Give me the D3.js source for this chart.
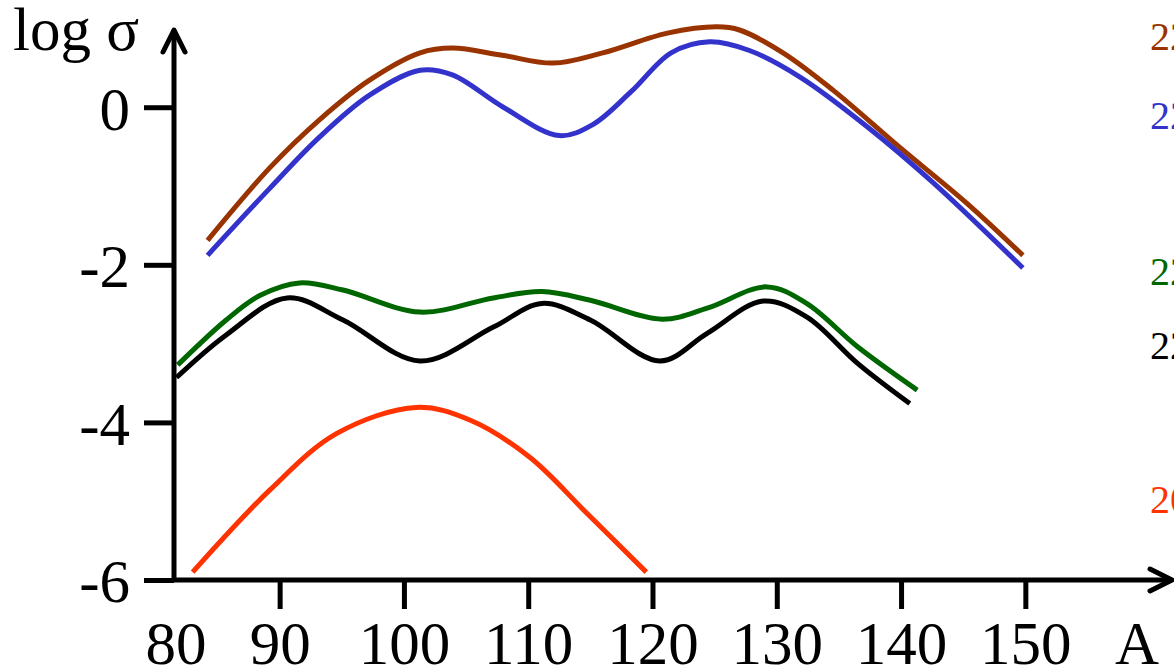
<!DOCTYPE html>
<html>
<head>
<meta charset="utf-8">
<script src="https://cdn.jsdelivr.net/npm/d3@7"></script>
<style>
  body { margin: 0; background: #fff; }
  svg { display: block; font-family: "Liberation Serif", "DejaVu Serif", serif; }
  .line { fill: none; stroke-width: 5; stroke-linecap: butt; stroke-linejoin: round; }
</style>
</head>
<body>
<div id="chart"></div>
<script>
// mass number A vs log sigma
var brownA = [84.2, 89.2, 93.2, 97.2, 101.3, 103.9, 107.9, 112, 116, 121.2, 125.2, 127, 130.5, 134.5, 139.9, 145.3, 149.8];
var brownS = [-1.69, -0.77, -0.16, 0.34, 0.69, 0.75, 0.66, 0.56, 0.69, 0.94, 1.02, 0.98, 0.69, 0.22, -0.51, -1.22, -1.88];

var blueA = [84.2, 89.2, 93.2, 97.2, 101.3, 103.9, 108, 112.5, 115.2, 118.3, 121.5, 124.6, 127.8, 131.9, 137.3, 142.6, 149.8];
var blueS = [-1.88, -1.03, -0.38, 0.15, 0.47, 0.41, 0.0, -0.36, -0.22, 0.2, 0.69, 0.83, 0.72, 0.38, -0.25, -0.96, -2.04];

var greenA = [81.8, 85.7, 88.4, 91.6, 95.1, 101.3, 107.2, 111.1, 115, 120.8, 124.4, 129.2, 132.4, 136.5, 141.3];
var greenS = [-3.27, -2.70, -2.39, -2.23, -2.32, -2.60, -2.42, -2.34, -2.45, -2.69, -2.55, -2.28, -2.49, -3.04, -3.59];

var blackA = [81.7, 85.7, 90.6, 95.1, 101.3, 107.2, 111.1, 115, 120.6, 124.4, 128.9, 132.4, 136.5, 140.7];
var blackS = [-3.43, -2.89, -2.42, -2.70, -3.22, -2.79, -2.49, -2.70, -3.22, -2.87, -2.46, -2.66, -3.25, -3.76];

var redA = [83.0, 89.2, 94.6, 101.0, 105.3, 110.1, 114.7, 119.5];
var redS = [-5.90, -4.86, -4.14, -3.81, -3.97, -4.44, -5.15, -5.90];

var seriesNames = ["226Th", "224Th", "222Th", "220Th", "208Pb"];
var seriesColors = ["#993300", "#3333cc", "#006600", "#000000", "#ff3300"];
var labelY = [0.72, -0.28, -2.25, -3.2, -5.15];

var xTicks = [90, 100, 110, 120, 130, 140, 150];
var yTicks = [0, -2, -4, -6];

var drawGraph = function() {
  var width = 1174, height = 672;
  var originX = 174, originY = 580;

  var x = d3.scaleLinear().domain([81.5, 161.8]).range([originX, 1172]);
  var y = d3.scaleLinear().domain([-6, 0.98]).range([originY, 30]);

  var svg = d3.select("#chart").append("svg")
    .attr("width", width)
    .attr("height", height)
    .style("overflow", "hidden");

  var line = d3.line()
    .x(function(d) { return x(d[0]); })
    .y(function(d) { return y(d[1]); })
    .curve(d3.curveCatmullRom.alpha(0.5));

  var series = [
    d3.zip(brownA, brownS),
    d3.zip(blueA, blueS),
    d3.zip(greenA, greenS),
    d3.zip(blackA, blackS),
    d3.zip(redA, redS)
  ];

  svg.selectAll("path.line")
    .data(series)
    .enter().append("path")
    .attr("class", "line")
    .attr("stroke", function(d, i) { return seriesColors[i]; })
    .attr("d", line);

  // x axis
  var xAxis = svg.append("g")
    .attr("transform", "translate(0," + originY + ")")
    .call(d3.axisBottom(x).tickValues(xTicks).tickSize(29).tickPadding(12).tickFormat(String));
  xAxis.select(".domain").remove();
  xAxis.selectAll(".tick line").attr("stroke-width", 5);
  xAxis.selectAll(".tick text").attr("font-size", 61).attr("font-family", "Liberation Serif").attr("fill", "#000");

  // y axis
  var yAxis = svg.append("g")
    .attr("transform", "translate(" + originX + ",0)")
    .call(d3.axisLeft(y).tickValues(yTicks).tickSize(30).tickPadding(14).tickFormat(String));
  yAxis.select(".domain").remove();
  yAxis.selectAll(".tick line").attr("stroke-width", 5);
  yAxis.selectAll(".tick text").attr("font-size", 61).attr("font-family", "Liberation Serif").attr("fill", "#000")
    .attr("dy", "0.36em");

  // axis lines with open arrow heads
  svg.append("path")
    .attr("d", "M" + originX + "," + y(0.98) + "V" + originY + "H" + x(161.8))
    .attr("fill", "none").attr("stroke", "#000").attr("stroke-width", 5)
    .attr("stroke-linejoin", "round");
  svg.append("path")
    .attr("d", "M" + (originX - 11) + "," + (y(0.98) + 22) + "L" + originX + "," + y(0.98) + "L" + (originX + 11) + "," + (y(0.98) + 22))
    .attr("fill", "none").attr("stroke", "#000").attr("stroke-width", 5)
    .attr("stroke-linecap", "round").attr("stroke-linejoin", "round");
  svg.append("path")
    .attr("d", "M" + (x(161.8) - 22) + "," + (originY - 11) + "L" + x(161.8) + "," + originY + "L" + (x(161.8) - 22) + "," + (originY + 11))
    .attr("fill", "none").attr("stroke", "#000").attr("stroke-width", 5)
    .attr("stroke-linecap", "round").attr("stroke-linejoin", "round");

  // "80" sits at the origin
  svg.append("text")
    .attr("x", originX + 2)
    .attr("y", 664)
    .attr("text-anchor", "middle")
    .attr("font-size", 61)
    .text("80");

  svg.append("text")
    .attr("x", 1137)
    .attr("y", 664)
    .attr("text-anchor", "middle")
    .attr("font-size", 61)
    .text("A");

  svg.append("text")
    .attr("x", 13)
    .attr("y", 50)
    .attr("font-size", 61)
    .text("log σ");

  // series labels at the right edge (cut off by the frame)
  svg.selectAll("text.lab")
    .data(seriesNames)
    .enter().append("text")
    .attr("class", "lab")
    .attr("x", 1150)
    .attr("y", function(d, i) { return y(labelY[i]); })
    .attr("font-size", 40)
    .attr("fill", function(d, i) { return seriesColors[i]; })
    .text(function(d) { return d; });
};

drawGraph();
</script>
</body>
</html>
